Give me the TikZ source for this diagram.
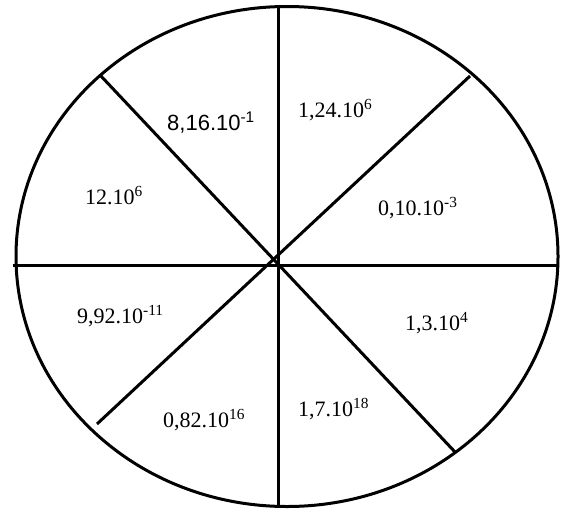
\documentclass[tikz,border=0pt]{standalone}
\usepackage{fontspec}
\setmainfont{Liberation Serif}
\newfontfamily\arialfont{Liberation Sans}
\begin{document}
\begin{tikzpicture}[x=1pt,y=-1pt,
  rim/.style={line width=3pt},
  spoke/.style={line width=3pt},
  lab/.style={anchor=base west,inner sep=0pt,font=\fontsize{22}{22}\selectfont},
  slab/.style={anchor=base west,inner sep=0pt,font=\arialfont\fontsize{22}{22}\selectfont}]
\useasboundingbox (0,0) rectangle (561,511);
\draw[rim] (287,256.5) ellipse [x radius=271, y radius=250];
\coordinate (c) at (278,265);
\coordinate (top) at (278,6);
\coordinate (bot) at (278,506);
\coordinate (lft) at (13,265);
\coordinate (rgt) at (559,265);
\coordinate (ul) at (100,75);
\coordinate (lr) at (455,452);
\coordinate (ur) at (470,76);
\coordinate (ll) at (97,424);
\draw[spoke] (top) -- (bot);
\draw[spoke] (lft) -- (rgt);
\draw[spoke] (ul) -- (lr);
\draw[spoke] (ur) -- (ll);
\node[slab] (a) at (167,130) {8,16.10\textsuperscript{-1}};
\node[lab] (b) at (298,117) {1,24.10\textsuperscript{6}};
\node[lab] (d) at (85,204) {12.10\textsuperscript{6}};
\node[lab] (e) at (378,215) {0,10.10\textsuperscript{-3}};
\node[lab] (f) at (77,323) {9,92.10\textsuperscript{-11}};
\node[lab] (g) at (405,330) {1,3.10\textsuperscript{4}};
\node[lab] (h) at (163,427) {0,82.10\textsuperscript{16}};
\node[lab] (i) at (298,416) {1,7.10\textsuperscript{18}};
\end{tikzpicture}
\end{document}
